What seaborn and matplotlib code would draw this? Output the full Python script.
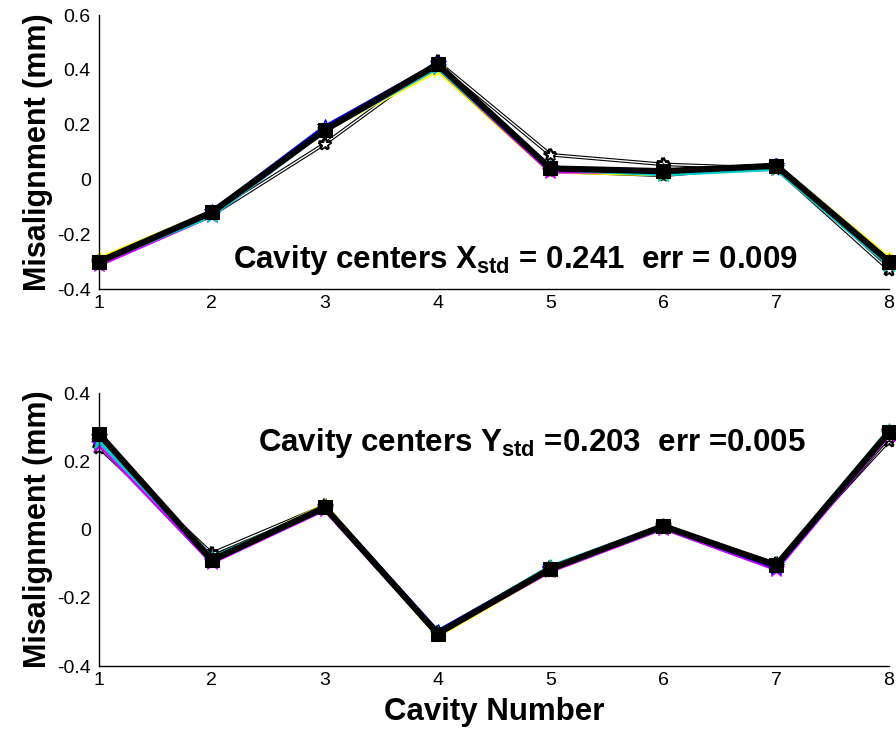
import numpy as np
import pandas as pd
import seaborn as sns
import matplotlib
matplotlib.use("Agg")
import matplotlib.pyplot as plt
import matplotlib.patheffects as pe

# Cavity index along the string
cavity = [1, 2, 3, 4, 5, 6, 7, 8]
x_ticks = [1, 2, 3, 4, 5, 6, 7, 8]

# Horizontal misalignment (mm) of each cavity centre, one list per measurement
x_yellow = [-0.29, -0.12, 0.18, 0.40, 0.03, 0.02, 0.05, -0.29]
x_magenta = [-0.31, -0.13, 0.18, 0.41, 0.03, 0.03, 0.04, -0.30]
x_blue = [-0.30, -0.12, 0.19, 0.42, 0.04, 0.03, 0.05, -0.30]
x_cyan = [-0.30, -0.13, 0.18, 0.41, 0.04, 0.02, 0.04, -0.31]
x_black = [-0.30, -0.12, 0.18, 0.42, 0.04, 0.03, 0.05, -0.30]
x_open_a = [-0.31, -0.13, 0.13, 0.43, 0.09, 0.055, 0.04, -0.33]
x_open_b = [-0.30, -0.12, 0.18, 0.41, 0.03, 0.015, 0.05, -0.31]

# Vertical misalignment (mm)
y_yellow = [0.27, -0.09, 0.07, -0.31, -0.12, 0.01, -0.11, 0.29]
y_magenta = [0.25, -0.095, 0.06, -0.305, -0.12, 0.005, -0.115, 0.28]
y_blue = [0.27, -0.09, 0.065, -0.30, -0.115, 0.01, -0.11, 0.285]
y_cyan = [0.26, -0.085, 0.065, -0.305, -0.11, 0.01, -0.105, 0.29]
y_black = [0.28, -0.09, 0.065, -0.305, -0.115, 0.01, -0.105, 0.285]
y_open_a = [0.24, -0.07, 0.07, -0.30, -0.11, 0.01, -0.10, 0.26]
y_open_b = [0.26, -0.08, 0.06, -0.305, -0.12, 0.005, -0.11, 0.27]

x_note = ("Cavity centers X$_{\\rm std}$ = 0.241  err = 0.009")
y_note = ("Cavity centers Y$_{\\rm std}$ =0.203  err =0.005")

sns.set_style("white")
plt.rcParams["font.family"] = ["Liberation Sans", "DejaVu Sans"]
plt.rcParams["text.color"] = "black"
plt.rcParams["axes.labelcolor"] = "black"
plt.rcParams["mathtext.fontset"] = "custom"
plt.rcParams["mathtext.rm"] = "Liberation Sans:bold"
plt.rcParams["mathtext.bf"] = "Liberation Sans:bold"
plt.rcParams["mathtext.it"] = "Liberation Sans:bold"

fig = plt.figure(figsize=(8.96, 7.36), dpi=100)
ax_top = fig.add_axes([0.1105, 0.6073, 0.8817, 0.3723])
ax_bot = fig.add_axes([0.1105, 0.0951, 0.8817, 0.3709])

colored = [("#ffff00", "*"), ("#cc00ff", "*"), ("#0000ff", "*"), ("#00cccc", "*")]


def draw_runs(ax, runs, black, opens):
    for vals in opens:
        sns.lineplot(x=cavity, y=vals, ax=ax, color="white", marker="*",
                     markersize=9, markerfacecolor="white",
                     markeredgecolor="black", markeredgewidth=0.7,
                     linewidth=1.0, legend=False,
                     path_effects=[pe.Stroke(linewidth=2.6, foreground="black"),
                                   pe.Normal()])
    for (col, mk), vals in zip(colored, runs):
        sns.lineplot(x=cavity, y=vals, ax=ax, color=col, marker=mk,
                     markersize=12, markeredgecolor=col, linewidth=3.5,
                     legend=False)
    sns.lineplot(x=cavity, y=black, ax=ax, color="black", marker="s",
                 markersize=10, markeredgecolor="black", linewidth=4.5,
                 legend=False)


draw_runs(ax_top, [x_yellow, x_magenta, x_blue, x_cyan], x_black,
          [x_open_a, x_open_b])
draw_runs(ax_bot, [y_yellow, y_magenta, y_blue, y_cyan], y_black,
          [y_open_a, y_open_b])

for ax, lo, hi, step in [(ax_top, -0.4, 0.6, 0.2), (ax_bot, -0.4, 0.4, 0.2)]:
    ax.set_xlim(1, 8)
    ax.set_ylim(lo, hi)
    ax.set_xticks(x_ticks)
    ax.set_xticklabels([str(t) for t in x_ticks])
    yt = np.round(np.arange(lo, hi + 1e-9, step), 1)
    ax.set_yticks(yt)
    ax.set_yticklabels(["0" if abs(v) < 1e-9 else f"{v:g}" for v in yt])
    sns.despine(ax=ax)
    for s in ("left", "bottom"):
        ax.spines[s].set_color("black")
        ax.spines[s].set_linewidth(1.0)
    ax.tick_params(direction="in", length=7, width=1.0, colors="black",
                   labelsize=14, pad=4)
    ax.tick_params(axis="y", pad=6)
    ax.set_ylabel("Misalignment (mm)", fontsize=22, fontweight="bold",
                  labelpad=3)
    for sp in ax.spines.values():
        sp.set_clip_on(False)
    for ln in ax.lines:
        ln.set_clip_on(False)

ax_bot.set_xlabel("Cavity Number", fontsize=22.5, fontweight="bold", labelpad=6)

ax_top.text(2.19, -0.325, x_note, fontsize=22.5, fontweight="bold",
            ha="left", va="baseline")
ax_bot.text(2.41, 0.23, y_note, fontsize=22.5, fontweight="bold",
            ha="left", va="baseline")

fig.savefig("out.png", dpi=100, facecolor="white")
